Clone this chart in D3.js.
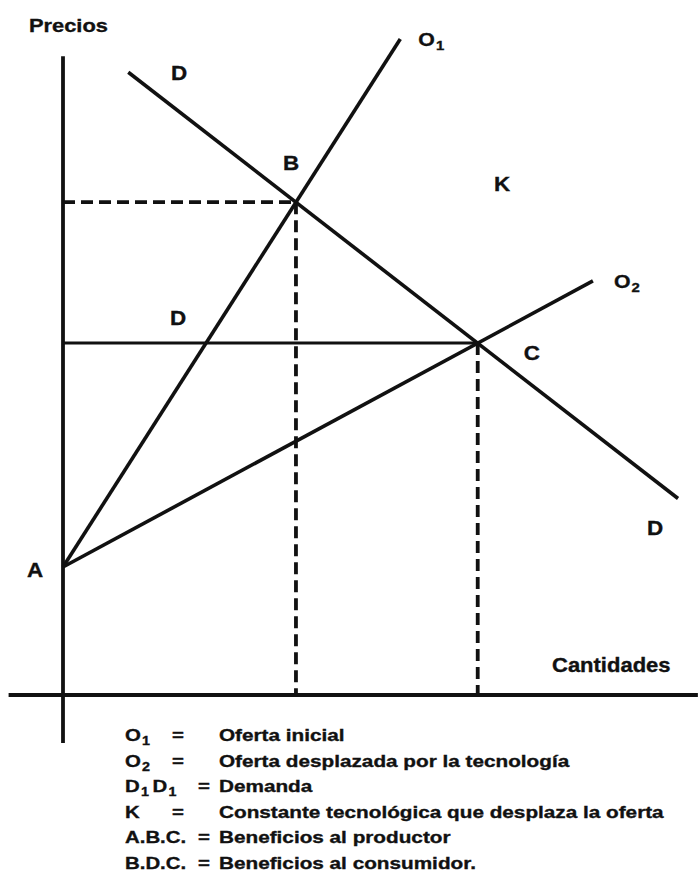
<!DOCTYPE html>
<html>
<head>
<meta charset="utf-8">
<script src="https://cdn.jsdelivr.net/npm/d3@7"></script>
<style>
  body { margin: 0; background: #fff; }
  svg { display: block; }
  text { font-family: "Liberation Sans", Arial, sans-serif; font-weight: bold; fill: #111;
         stroke: #111; stroke-width: 0.35px; }
</style>
</head>
<body>
<svg id="chart" width="698" height="887"></svg>
<script>
// Points on the diagram (quantity, price)
const pointNames = ["A", "B", "C"];
const pointQ     = [0, 36.4, 64.8];
const pointP     = [20, 77, 55];

// Curves: start / end (quantity, price)
const curveNames = ["O1", "O2", "D"];
const curveQ     = [[0, 52.7], [0, 82.8], [10.2, 96.1]];
const curveP     = [[20, 102.5], [20, 64.7], [97.3, 30.7]];

// Axis extents
const axisQ = [-8.5, 99.2];
const axisP = [-7.5, 99.8];

// Legend
const legendKeys = [["O", "1"], ["O", "2"], ["D", "1", "D", "1"], ["K"], ["A.B.C."], ["B.D.C."]];
const legendText = ["Oferta inicial", "Oferta desplazada por la tecnología", "Demanda",
                    "Constante tecnológica que desplaza la oferta", "Beneficios al productor",
                    "Beneficios al consumidor."];

const svg = d3.select("#chart");
const x = d3.scaleLinear().domain([0, 100]).range([63, 703]);
const y = d3.scaleLinear().domain([0, 100]).range([695, 55]);
const line = d3.line().x(d => x(d[0])).y(d => y(d[1]));

// axes
svg.append("path").attr("d", line([[0, axisP[0]], [0, axisP[1]]]))
  .attr("stroke", "#111").attr("stroke-width", 3.8);
svg.append("path").attr("d", line([[axisQ[0], 0], [axisQ[1], 0]]))
  .attr("stroke", "#111").attr("stroke-width", 3.8);

// curves
curveNames.forEach((n, i) => {
  svg.append("path")
    .attr("d", line([[curveQ[i][0], curveP[i][0]], [curveQ[i][1], curveP[i][1]]]))
    .attr("stroke", "#111").attr("stroke-width", 3.6).attr("fill", "none");
});

// guide lines
const B = [pointQ[1], pointP[1]], C = [pointQ[2], pointP[2]];
svg.append("path").attr("d", line([[0, C[1]], C]))
  .attr("stroke", "#111").attr("stroke-width", 3.2);
[[[0, B[1]], B], [B, [B[0], 0]], [C, [C[0], 0]]].forEach(seg => {
  svg.append("path").attr("d", line(seg))
    .attr("stroke", "#111").attr("stroke-width", 3.8)
    .attr("stroke-dasharray", "12,6");
});

// text helper, glyphs in the scan are wider than Liberation Sans
function label(px, py, parts, size, sx = 1.12) {
  const t = svg.append("text")
    .attr("transform", `translate(${px},${py}) scale(${sx},1)`)
    .style("font-size", size + "px");
  parts.forEach((p, k) => {
    const sub = k % 2 === 1;
    t.append("tspan").text(p)
      .attr("dy", sub ? 4 : (k > 0 ? -4 : 0))
      .style("font-size", sub ? "0.7em" : null)
      .attr("dx", sub ? 1 : (k > 0 ? 3 : 0));
  });
  return t;
}

label(29, 32, ["Precios"], 19, 1.15);
label(x(curveQ[0][1]) + 18, 46, ["O", "1"], 19);
label(x(curveQ[1][1]) + 21, 288, ["O", "2"], 19);
label(171, 80, ["D"], 20);
label(170, 325, ["D"], 20);
label(647, 535, ["D"], 20);
label(x(B[0]) - 13, 170, ["B"], 20);
label(x(C[0]) + 46, 360, ["C"], 20);
label(27, y(pointP[0]) + 10, ["A"], 20);
label(494, 191, ["K"], 20);
label(552, 672, ["Cantidades"], 20, 1.1);

// legend
legendKeys.forEach((k, i) => {
  const by = 741 + i * 25.6;
  label(125, by, k, 17, 1.2);
  const wide = k.length > 2 || k[0].length > 1;
  label(wide ? 198 : 172, by, ["="], 17, 1.2);
  label(219, by, [legendText[i]], 17, 1.22);
});
</script>
</body>
</html>
